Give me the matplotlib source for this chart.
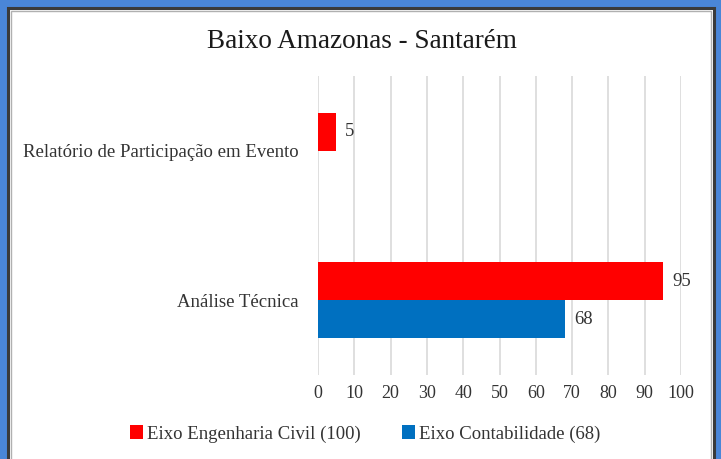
import matplotlib.pyplot as plt
from matplotlib.patches import Rectangle

categories = ['Análise Técnica', 'Relatório de Participação em Evento']
eng_civil = [95, 5]
contabilidade = [68, None]
series_names = ['Eixo Engenharia Civil (100)', 'Eixo Contabilidade (68)']
x_ticks = list(range(0, 101, 10))

plt.rcParams['font.family'] = ['Liberation Serif', 'DejaVu Serif']

fig = plt.figure(figsize=(7.21, 4.59), dpi=100)
fig.patch.set_facecolor('#4a86d8')

# white panel with dark frame
fig.patches.append(Rectangle((8 / 721, -0.05), 706 / 721, 1.05 - 8 / 459,
                             transform=fig.transFigure, facecolor='white',
                             edgecolor='#3a3a3a', linewidth=2.2, zorder=0))
fig.patches.append(Rectangle((11 / 721, -0.05), 700 / 721, 1.05 - 11 / 459,
                             transform=fig.transFigure, facecolor='none',
                             edgecolor='#b0b0b0', linewidth=1.0, zorder=0))

ax = fig.add_axes([318 / 721, 1 - 375 / 459, 363 / 721, 299 / 459])
ax.set_facecolor('none')
ax.set_zorder(2)

h = 0.255
ypos = list(range(len(categories)))
red_vals = eng_civil
blue_vals = [v if v is not None else 0 for v in contabilidade]
bars_r = ax.barh([y + h / 2 for y in ypos], red_vals, height=h, color='#ff0000',
                 label=series_names[0], zorder=3)
bars_b = ax.barh([y - h / 2 for y in ypos], blue_vals, height=h, color='#0070c0',
                 label=series_names[1], zorder=3)

txt = '#333333'
for bar, v in zip(bars_r, eng_civil):
    ax.text(bar.get_width() + 2.5, bar.get_y() + bar.get_height() / 2, str(v),
            va='center', ha='left', fontsize=13.5, color=txt)
for bar, v in zip(bars_b, contabilidade):
    if v is not None:
        ax.text(bar.get_width() + 2.5, bar.get_y() + bar.get_height() / 2, str(v),
                va='center', ha='left', fontsize=13.5, color=txt)

ax.set_xlim(0, 100)
ax.set_ylim(-0.5, 1.5)
ax.set_xticks(x_ticks)
ax.set_xticklabels([str(t) for t in x_ticks], fontsize=13, color=txt)
ax.set_yticks(ypos)
ax.set_yticklabels(categories, fontsize=13.5, color=txt)
ax.tick_params(axis='x', length=0, pad=7)
ax.tick_params(axis='y', length=0, pad=14)
ax.grid(axis='x', color='#d9d9d9', linewidth=1.2, zorder=0)
for s in ax.spines.values():
    s.set_visible(False)

fig.text(362 / 721, 1 - 41 / 459, 'Baixo Amazonas - Santarém', ha='center',
         va='center', fontsize=19.5, color='#1a1a1a')

leg = fig.legend(handles=[bars_r, bars_b], labels=series_names, loc='center',
                 bbox_to_anchor=(365 / 721, 1 - 434 / 459), ncol=2, frameon=False,
                 fontsize=13.5, handlelength=0.7, handleheight=0.7, handletextpad=0.2,
                 columnspacing=2.2, labelcolor=txt)
leg.set_zorder(3)

fig.savefig('out.png', dpi=100, facecolor=fig.get_facecolor())
